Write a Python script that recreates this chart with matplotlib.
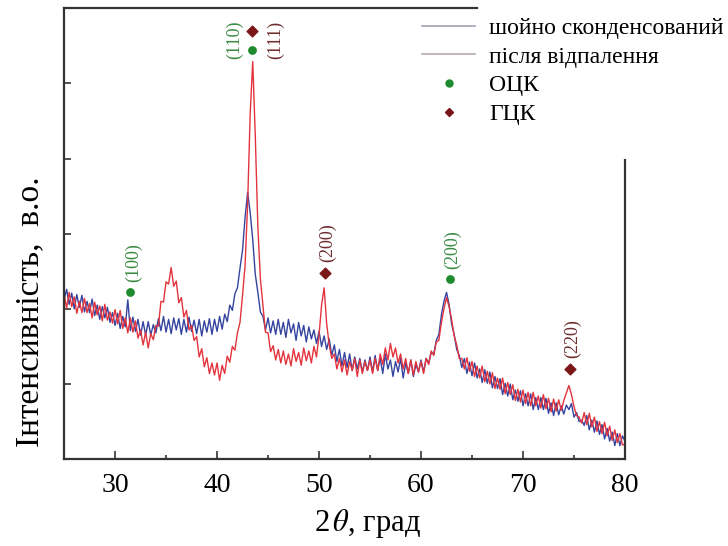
import numpy as np
import matplotlib.pyplot as plt
from matplotlib.lines import Line2D
from matplotlib.ticker import MultipleLocator

plt.rcParams['font.family'] = ['Liberation Serif', 'DejaVu Serif']
plt.rcParams['mathtext.fontset'] = 'stix'

# 2theta grid, step 0.25 deg
two_theta = np.arange(25.0, 80.001, 0.25)

# intensity, a.u. (0..600, one y tick = 100)
red_vals = [
    220, 201, 222, 203, 216, 194, 210, 195, 214, 195, 207, 188, 209, 192, 204, 184, 206, 185, 196, 181,
    199, 180, 198, 174, 188, 168, 188, 169, 184, 161, 172, 152, 169, 148, 167, 159,
    178, 177, 210, 209, 236, 233, 255, 230, 237, 208, 215, 189, 198, 172, 178, 158,
    163, 136, 147, 123, 135, 114, 128, 112, 128, 105, 125, 114, 137, 129, 150, 145,
    168, 182, 218, 258, 340, 460, 529, 430, 310, 240, 204, 169, 168, 143, 151, 132,
    146, 128, 144, 126, 140, 124, 147, 130, 142, 125, 148, 131, 144, 128, 150, 136,
    165, 205, 228, 180,
    152, 134, 140, 120, 134, 116, 132, 112, 130, 118, 134, 110, 132, 114, 130, 118,
    132, 114, 134, 118, 140, 126, 148, 132, 154, 136, 148, 128, 140, 120, 134, 114, 132, 112, 130, 116,
    130, 114, 134, 126, 144, 138, 156, 158,
    182, 200, 215, 203, 186, 164, 152, 134,
    134, 120, 135, 117, 130, 110, 124, 108, 124, 103, 117, 100, 115, 94, 108, 93, 108, 87, 102, 86, 99, 78, 93, 76,
    92, 74, 89, 71, 89, 71, 84, 68, 86, 67, 81, 63, 80, 64, 79, 65,
    78, 88, 98, 86, 70, 58, 56, 48,
    62, 46, 61, 43, 56, 37, 50, 34, 49, 31, 44, 25, 39, 22, 34, 19, 20,
]

blue_vals = [
    212, 226, 206, 221, 200, 219, 202, 218, 196, 210, 195, 213, 191, 205, 186, 203, 188, 202, 182, 195,
    178, 194, 174, 190, 176, 212, 171, 189, 170, 186, 165, 183, 165, 183, 165, 179,
    168, 187, 171, 190, 169, 186, 167, 188, 172, 187, 166, 186, 169, 189, 170, 185,
    167, 186, 164, 184, 169, 187, 166, 186, 170, 190, 173, 193, 183, 205, 198, 220,
    228, 254, 278, 322, 355, 328, 292, 246, 222, 196, 190, 172, 188, 168, 184, 166,
    186, 166, 182, 162, 186, 168, 180, 158, 182, 164, 178, 156, 176, 160, 172, 154,
    170, 150, 164, 146,
    160, 138, 152, 130, 146, 124, 142, 122, 140, 118, 136, 120, 134, 116, 132, 118,
    136, 116, 138, 118, 134, 114, 140, 120, 132, 110, 130, 116, 134, 108, 128, 114, 132, 110, 126, 116,
    132, 116, 134, 128, 142, 140, 158, 166,
    192, 210, 222, 206, 180, 166, 146, 138,
    122, 134, 114, 129, 111, 128, 108, 120, 102, 119, 101, 116, 95, 110, 94, 107, 86, 101, 84, 100, 79, 92, 77, 91,
    71, 87, 71, 87, 66, 82, 66, 82, 66, 81, 61, 75, 58, 75, 59, 71,
    60, 72, 66, 74, 56, 62, 50, 52,
    45, 58, 39, 52, 36, 51, 33, 46, 27, 41, 24, 36, 18, 34, 18, 31, 24,
]

# phase markers: position and label
bcc_x = [31.5, 43.4, 62.8]
bcc_y = [223, 545, 240]
bcc_labels = ['(100)', '(110)', '(200)']
fcc_x = [43.4, 50.6, 74.6]
fcc_y = [570, 248, 120]
fcc_labels = ['(111)', '(200)', '(220)']

blue = '#34449f'
red = '#e3343e'
green = '#1f8a2e'
brown = '#7a1518'
green_txt = '#3c8c44'
brown_txt = '#6e2e2e'

fig = plt.figure(figsize=(7.28, 5.46), dpi=100)
ax = fig.add_axes([0.088, 0.159, 0.7705, 0.826])

ax.plot(two_theta, blue_vals, color=blue, lw=1.0)
ax.plot(two_theta, red_vals, color=red, lw=1.0)

ax.scatter(bcc_x, bcc_y, s=28, color=green, zorder=5)
ax.scatter(fcc_x, fcc_y, s=30, marker='D', color=brown, zorder=5)

# peak labels
for x, y, lab in zip(bcc_x, bcc_y, bcc_labels):
    if lab == '(110)':
        ax.annotate(lab, xy=(x, 558), xytext=(-12, 0), textcoords='offset points',
                    rotation=90, ha='center', va='center', color=green_txt, fontsize=13)
    else:
        ax.annotate(lab, xy=(x, y), xytext=(2, 7), textcoords='offset points',
                    rotation=90, ha='center', va='bottom', color=green_txt, fontsize=13)
for x, y, lab in zip(fcc_x, fcc_y, fcc_labels):
    if lab == '(111)':
        ax.annotate(lab, xy=(x, 558), xytext=(17, 0), textcoords='offset points',
                    rotation=90, ha='center', va='center', color=brown_txt, fontsize=13)
    else:
        ax.annotate(lab, xy=(x, y), xytext=(2, 8), textcoords='offset points',
                    rotation=90, ha='center', va='bottom', color=brown_txt, fontsize=13)

ax.set_xlim(25, 80)
ax.set_ylim(0, 600)
ax.xaxis.set_major_locator(MultipleLocator(10))
ax.xaxis.set_minor_locator(MultipleLocator(5))
ax.yaxis.set_major_locator(MultipleLocator(100))
ax.set_yticklabels([])
ax.tick_params(axis='both', which='both', direction='in', color='#333333')
ax.tick_params(axis='x', which='major', length=6, width=1.2, labelsize=20, pad=10)
ax.tick_params(axis='x', which='minor', length=3, width=1.2)
ax.tick_params(axis='y', which='major', length=5, width=1.2)

# frame: top and right spines are cut short by the legend
ax.spines['top'].set_visible(False)
ax.spines['right'].set_visible(False)
for s in ['left', 'bottom']:
    ax.spines[s].set_color('#333333')
    ax.spines[s].set_linewidth(1.6)
ax.plot([0, 0.736], [1, 1], transform=ax.transAxes, color='#333333', lw=1.6, clip_on=False)
ax.plot([1, 1], [0, 0.663], transform=ax.transAxes, color='#333333', lw=1.6, clip_on=False)

ax.set_xlabel(r'2$\,\theta$, град', fontsize=22)
ax.xaxis.set_label_coords(0.54, -0.107)
ax.set_ylabel('Інтенсивність,  в.о.', fontsize=24)
ax.yaxis.set_label_coords(-0.034, 0.328)

handles = [
    Line2D([], [], color='#9ea3b8', lw=1.2),
    Line2D([], [], color='#b9a9ab', lw=1.2),
    Line2D([], [], color=green, marker='o', ls='none', ms=5),
    Line2D([], [], color=brown, marker='D', ls='none', ms=4.5),
]
labels = ['шойно сконденсований', 'після відпалення', 'ОЦК', 'ГЦК']
fig.legend(handles, labels, loc='upper left', bbox_to_anchor=(0.5797, 0.968),
           frameon=False, fontsize=17, handlelength=2.25, handletextpad=0.6,
           labelspacing=0.3, borderpad=0, borderaxespad=0)

fig.savefig('out.png', dpi=100)
